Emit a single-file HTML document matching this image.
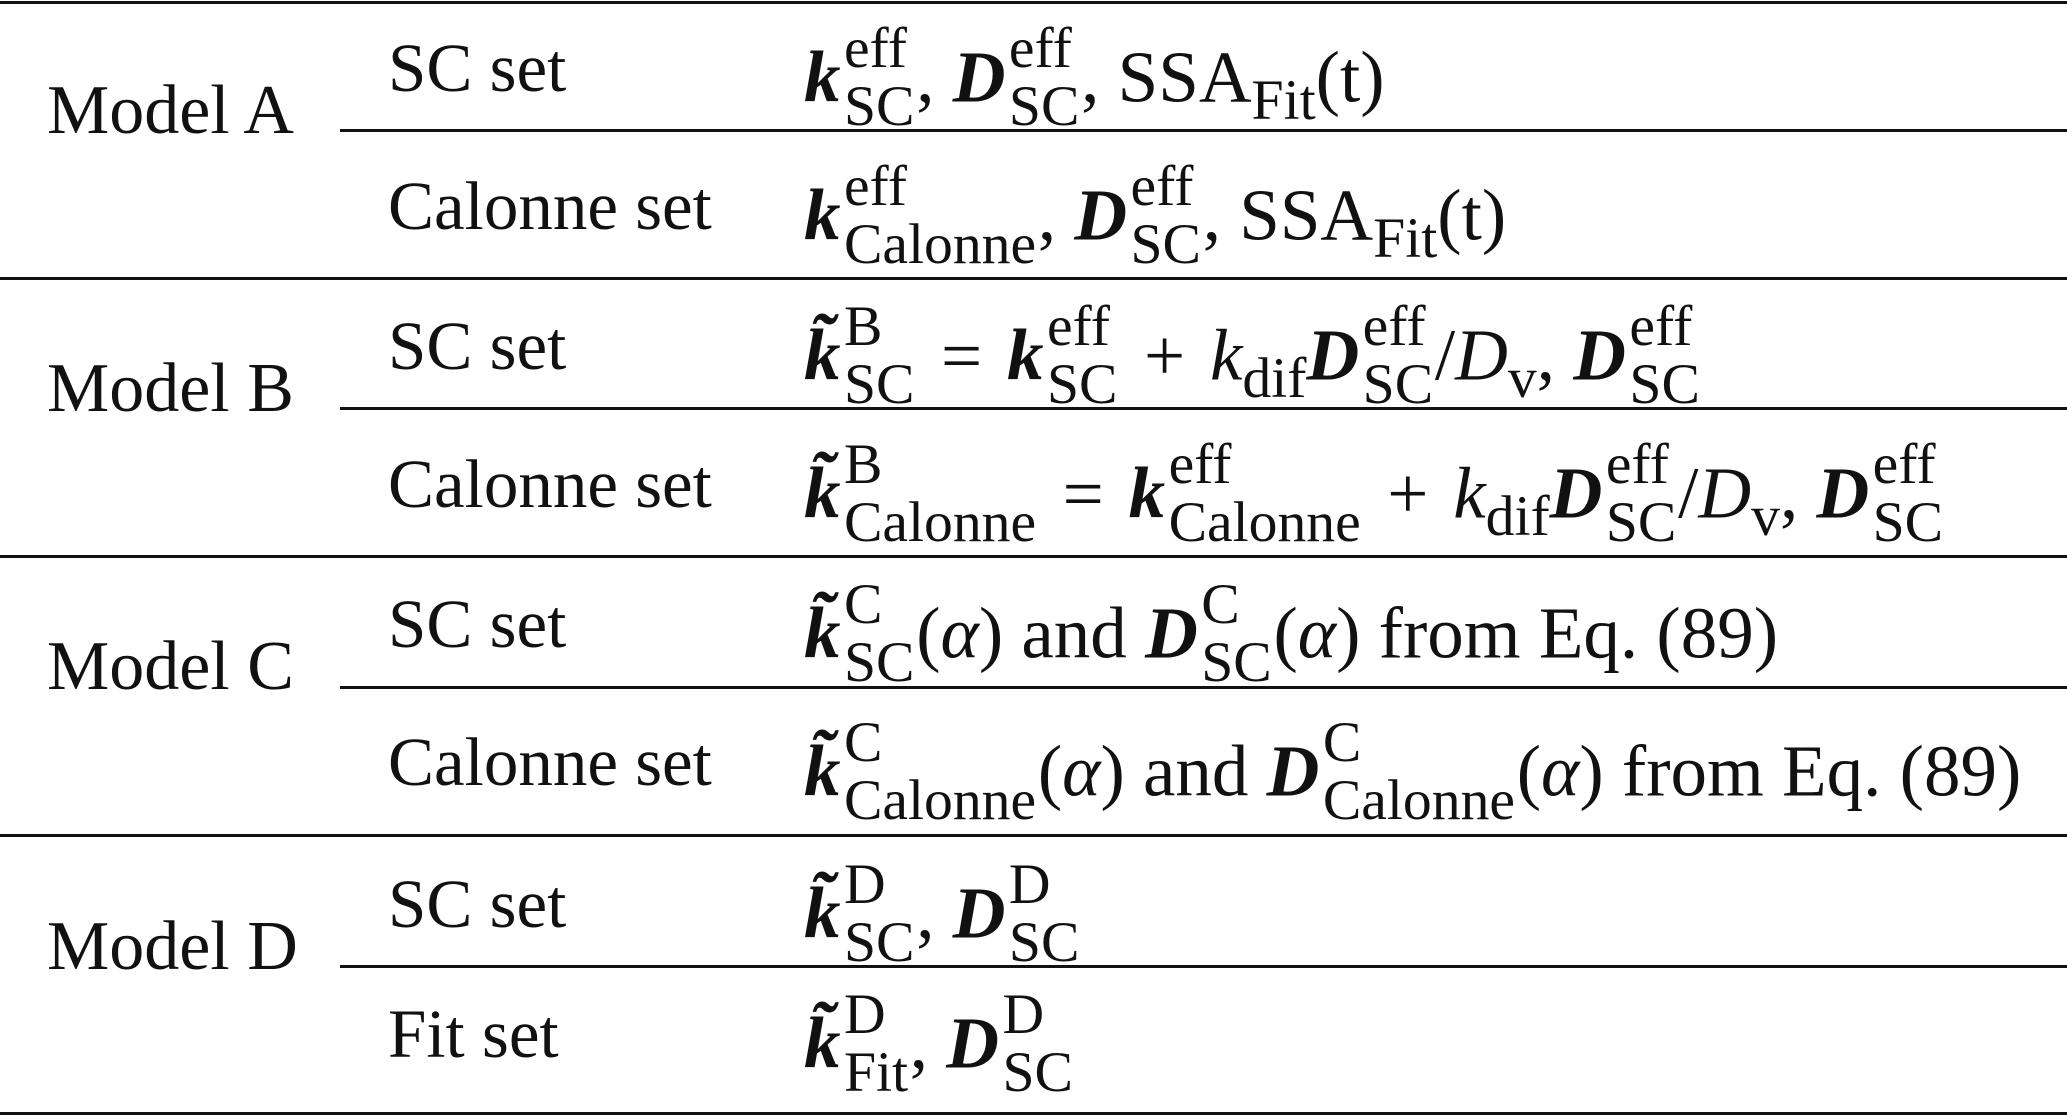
<!DOCTYPE html>
<html><head><meta charset="utf-8"><style>
html,body{margin:0;padding:0;background:#fff;}
body{width:2067px;height:1118px;position:relative;overflow:hidden;font-family:"Liberation Serif",serif;color:#111;font-size:69px;}
.l{position:absolute;height:3px;background:#111;right:0;}
.t{position:absolute;white-space:nowrap;line-height:1;}
.m{margin-top:-14px;font-size:73px;}
.ss{display:inline-block;font-size:0.79em;line-height:1.0em;vertical-align:-0.4em;text-align:left;margin-left:0.06em;margin-right:0.03em;}
.ss span{display:block;}
.b{font-weight:bold;font-style:italic;}
i{font-style:italic;}
.rs{font-size:0.79em;vertical-align:-0.3em;}
.op{padding:0 0.34em;}
</style></head><body>
<div class="l" style="top:1px;left:0"></div>
<div class="l" style="top:129px;left:340px"></div>
<div class="l" style="top:277px;left:0"></div>
<div class="l" style="top:407px;left:340px"></div>
<div class="l" style="top:555px;left:0"></div>
<div class="l" style="top:686px;left:340px"></div>
<div class="l" style="top:834px;left:0"></div>
<div class="l" style="top:965px;left:340px"></div>
<div class="l" style="top:1112px;left:0"></div>

<div class="t" style="left:47px;top:76px;font-size:70px">Model A</div>
<div class="t" style="left:47px;top:354px;font-size:70px">Model B</div>
<div class="t" style="left:47px;top:632px;font-size:70px">Model C</div>
<div class="t" style="left:47px;top:912px;font-size:70px">Model D</div>

<div class="t" style="left:388px;top:34px">SC set</div>
<div class="t" style="left:388px;top:172px">Calonne set</div>
<div class="t" style="left:388px;top:312px">SC set</div>
<div class="t" style="left:388px;top:450px">Calonne set</div>
<div class="t" style="left:388px;top:590px">SC set</div>
<div class="t" style="left:388px;top:728px">Calonne set</div>
<div class="t" style="left:388px;top:870px">SC set</div>
<div class="t" style="left:388px;top:1000px">Fit set</div>

<div class="t m" style="left:804px;top:34px"><span class="b">k</span><span class="ss"><span>eff</span><span>SC</span></span>, <span class="b">D</span><span class="ss"><span>eff</span><span>SC</span></span>, SSA<span class="rs">Fit</span>(t)</div>
<div class="t m" style="left:804px;top:172px"><span class="b">k</span><span class="ss"><span>eff</span><span>Calonne</span></span>, <span class="b">D</span><span class="ss"><span>eff</span><span>SC</span></span>, SSA<span class="rs">Fit</span>(t)</div>
<div class="t m" style="left:804px;top:312px"><span class="b">k̃</span><span class="ss"><span>B</span><span>SC</span></span><span class="op">=</span><span class="b">k</span><span class="ss"><span>eff</span><span>SC</span></span><span class="op">+</span><i>k</i><span class="rs">dif</span><span class="b">D</span><span class="ss"><span>eff</span><span>SC</span></span>/<i>D</i><span class="rs">v</span>, <span class="b">D</span><span class="ss"><span>eff</span><span>SC</span></span></div>
<div class="t m" style="left:804px;top:450px"><span class="b">k̃</span><span class="ss"><span>B</span><span>Calonne</span></span><span class="op">=</span><span class="b">k</span><span class="ss"><span>eff</span><span>Calonne</span></span><span class="op">+</span><i>k</i><span class="rs">dif</span><span class="b">D</span><span class="ss"><span>eff</span><span>SC</span></span>/<i>D</i><span class="rs">v</span>, <span class="b">D</span><span class="ss"><span>eff</span><span>SC</span></span></div>
<div class="t m" style="left:804px;top:590px"><span class="b">k̃</span><span class="ss"><span>C</span><span>SC</span></span>(<i>α</i>) and <span class="b">D</span><span class="ss"><span>C</span><span>SC</span></span>(<i>α</i>) from Eq. (89)</div>
<div class="t m" style="left:804px;top:728px"><span class="b">k̃</span><span class="ss"><span>C</span><span>Calonne</span></span>(<i>α</i>) and <span class="b">D</span><span class="ss"><span>C</span><span>Calonne</span></span>(<i>α</i>) from Eq. (89)</div>
<div class="t m" style="left:804px;top:870px"><span class="b">k̃</span><span class="ss"><span>D</span><span>SC</span></span>, <span class="b">D</span><span class="ss"><span>D</span><span>SC</span></span></div>
<div class="t m" style="left:804px;top:1000px"><span class="b">k̃</span><span class="ss"><span>D</span><span>Fit</span></span>, <span class="b">D</span><span class="ss"><span>D</span><span>SC</span></span></div>
</body></html>
